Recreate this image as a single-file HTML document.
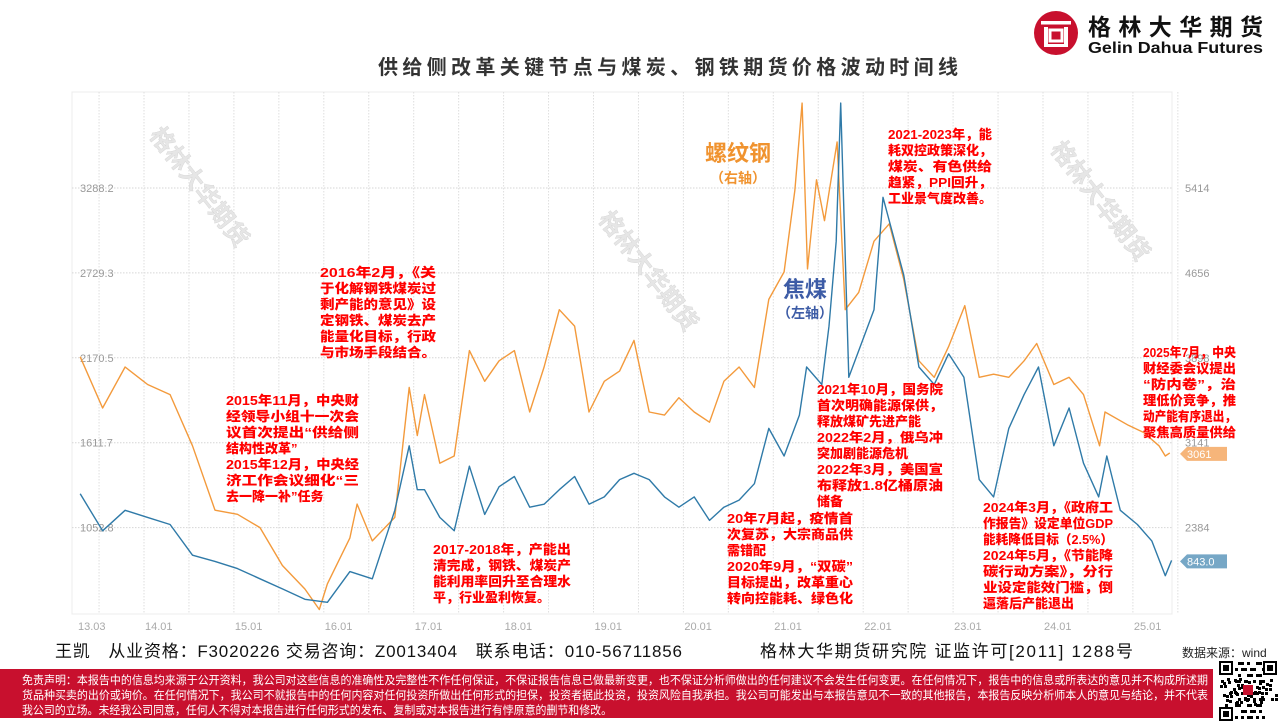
<!DOCTYPE html>
<html><head><meta charset="utf-8">
<style>
html,body{margin:0;padding:0;background:#fff;}
svg{display:block;font-family:"Liberation Sans","Noto Sans CJK SC",sans-serif;}
.ann{font-family:"Liberation Sans","Noto Sans CJK SC",sans-serif;font-weight:900;font-size:13px;fill:#ff0000;}
</style></head>
<body>
<svg id="chart" width="1281" height="723" viewBox="0 0 1281 723" xmlns="http://www.w3.org/2000/svg">
  <g>
    <circle cx="1056" cy="33" r="22" fill="#c8102e"/>
    <rect x="1041" y="21" width="30" height="3.5" fill="#fff"/>
    <rect x="1044" y="27" width="4" height="20" fill="#fff"/>
    <rect x="1064" y="27" width="4" height="20" fill="#fff"/>
    <rect x="1050" y="30" width="12" height="11" fill="none" stroke="#fff" stroke-width="3"/>
    <rect x="1048" y="44" width="16" height="3" fill="#fff"/>
    <text x="1088" y="35" font-size="23" font-weight="bold" fill="#111" textLength="175" lengthAdjust="spacing">格林大华期货</text>
    <text x="1088" y="53" font-size="16" font-weight="bold" fill="#111" textLength="175" lengthAdjust="spacingAndGlyphs">Gelin Dahua Futures</text>
  </g>
  <text x="668" y="74" text-anchor="middle" font-size="20" font-weight="bold" fill="#333" textLength="580" lengthAdjust="spacing">供给侧改革关键节点与煤炭、钢铁期货价格波动时间线</text>

  <g id="grid"></g>
  <g id="watermarks">
    <text transform="translate(193,192) rotate(52)" text-anchor="middle" font-size="24" font-weight="bold" fill="#e6e6e6" stroke="#d4d4d4" stroke-width="0.4">格林大华期货</text>
    <text transform="translate(642,276) rotate(52)" text-anchor="middle" font-size="24" font-weight="bold" fill="#e6e6e6" stroke="#d4d4d4" stroke-width="0.4">格林大华期货</text>
    <text transform="translate(1094,206) rotate(52)" text-anchor="middle" font-size="24" font-weight="bold" fill="#e6e6e6" stroke="#d4d4d4" stroke-width="0.4">格林大华期货</text>
  </g>
  <g id="axes"></g>
  <g id="series"></g>

  <text x="738" y="161" text-anchor="middle" font-size="22" font-weight="bold" fill="#f0932f">螺纹钢</text>
  <text x="738" y="183" text-anchor="middle" font-size="14" font-weight="bold" fill="#f0932f">（右轴）</text>
  <text x="805" y="297" text-anchor="middle" font-size="22" font-weight="bold" fill="#3d5ca6">焦煤</text>
  <text x="805" y="318" text-anchor="middle" font-size="14" font-weight="bold" fill="#3d5ca6">（左轴）</text>

  <g id="annotations"></g>

  <text x="55" y="657" font-size="17" fill="#111" textLength="627" lengthAdjust="spacing">王凯　从业资格：F3020226 交易咨询：Z0013404　联系电话：010-56711856</text>
  <text x="760" y="657" font-size="17" fill="#111" textLength="373" lengthAdjust="spacing">格林大华期货研究院 证监许可[2011] 1288号</text>
  <text x="1182" y="657" font-size="12" fill="#222">数据来源：wind</text>
  <rect x="0" y="669" width="1213" height="49" fill="#c8102e"/>
  <g font-size="11.5" fill="#fff">
    <text x="22" y="684" textLength="1186" lengthAdjust="spacingAndGlyphs">免责声明：本报告中的信息均来源于公开资料，我公司对这些信息的准确性及完整性不作任何保证，不保证报告信息已做最新变更，也不保证分析师做出的任何建议不会发生任何变更。在任何情况下，报告中的信息或所表达的意见并不构成所述期</text>
    <text x="22" y="699" textLength="1186" lengthAdjust="spacingAndGlyphs">货品种买卖的出价或询价。在任何情况下，我公司不就报告中的任何内容对任何投资所做出任何形式的担保，投资者据此投资，投资风险自我承担。我公司可能发出与本报告意见不一致的其他报告，本报告反映分析师本人的意见与结论，并不代表</text>
    <text x="22" y="714" textLength="590" lengthAdjust="spacingAndGlyphs">我公司的立场。未经我公司同意，任何人不得对本报告进行任何形式的发布、复制或对本报告进行有悖原意的删节和修改。</text>
  </g>
  <g id="qr"></g>
</svg>
<script>
const cokeDates = [2013.29,2013.54,2013.79,2014.04,2014.29,2014.54,2014.79,2015.04,2015.29,2015.54,2015.79,2016.04,2016.29,2016.54,2016.79,2016.95,2017.04,2017.12,2017.29,2017.45,2017.62,2017.79,2017.95,2018.12,2018.29,2018.45,2018.62,2018.79,2018.95,2019.12,2019.29,2019.45,2019.62,2019.79,2019.95,2020.12,2020.29,2020.45,2020.62,2020.79,2020.95,2021.12,2021.29,2021.37,2021.54,2021.62,2021.7,2021.75,2021.84,2022.12,2022.22,2022.45,2022.62,2022.79,2022.95,2023.12,2023.29,2023.45,2023.62,2023.79,2023.95,2024.12,2024.29,2024.45,2024.62,2024.71,2024.86,2025.05,2025.21,2025.36,2025.43];
const cokeValues = [1275,1032,1167,1120,1073,871,830,783,716,649,581,561,763,716,1167,1591,1302,1302,1120,1032,1457,1140,1322,1389,1187,1207,1302,1389,1207,1255,1369,1410,1369,1255,1187,1255,1100,1187,1234,1342,1706,1524,1793,2110,1995,2379,2938,3847,2042,2487,3227,2716,2110,1995,2197,2042,1369,1255,1706,1928,2110,1591,1840,1477,1255,1524,1167,1073,965,736,837];
const rebarDates = [2013.29,2013.54,2013.79,2014.04,2014.29,2014.54,2014.79,2015.04,2015.29,2015.54,2015.79,2015.95,2016.04,2016.29,2016.37,2016.54,2016.79,2016.95,2017.04,2017.12,2017.29,2017.45,2017.62,2017.79,2017.95,2018.12,2018.29,2018.45,2018.62,2018.79,2018.95,2019.12,2019.29,2019.45,2019.62,2019.79,2019.95,2020.12,2020.29,2020.45,2020.62,2020.79,2020.95,2021.12,2021.24,2021.32,2021.38,2021.48,2021.57,2021.71,2021.8,2021.95,2022.12,2022.29,2022.45,2022.62,2022.79,2022.95,2023.13,2023.29,2023.45,2023.62,2023.79,2023.93,2024.12,2024.29,2024.45,2024.63,2024.69,2024.95,2025.12,2025.29,2025.36,2025.41];
const rebarValues = [3907,3450,3816,3660,3569,3112,2537,2501,2382,2044,1834,1651,1880,2290,2592,2263,2473,3633,3204,3569,2957,3021,3962,3688,3871,3962,3414,3816,4327,4181,3414,3688,3779,4053,3414,3386,3542,3414,3323,3688,3816,3633,4419,4665,5396,6172,4692,5487,5122,5825,4327,4482,4939,5094,4601,3871,3724,3998,4364,3724,3752,3724,3871,4026,3660,3724,3569,3112,3414,3295,3231,3112,3021,3049];
const leftTicks = ["3288.2","2729.3","2170.5","1611.7","1052.8"];
const rightTicks = ["5414","4656","3898","3141","2384"];
const xTickLabels = ["13.03","14.01","15.01","16.01","17.01","18.01","19.01","20.01","21.01","22.01","23.01","24.01","25.01"];
const xTickDates = [2013.17,2014,2015,2016,2017,2018,2019,2020,2021,2022,2023,2024,2025];
const cokeLast = "843.0";
const rebarLast = "3061";

const NS = "http://www.w3.org/2000/svg";
const PLOT_L = 72, PLOT_R = 1172, PLOT_T = 92, PLOT_B = 614;
const Y0 = 188, GRID = 84.9;
function xScale(t){ return 144 + (t - 2014) * 89.9; }
function yLeft(v){ return Y0 + (3288.2 - v) / 558.85 * GRID; }
function yRight(v){ return Y0 + (5414 - v) / 758 * GRID; }
function mk(tag, attrs, parent){
  const e = document.createElementNS(NS, tag);
  for (const k in attrs) e.setAttribute(k, attrs[k]);
  parent.appendChild(e); return e;
}
const grid = document.getElementById('grid');
const axes = document.getElementById('axes');
mk('rect',{x:PLOT_L,y:PLOT_T,width:PLOT_R-PLOT_L,height:PLOT_B-PLOT_T,fill:'none',stroke:'#ececec','stroke-width':1},grid);
for (let i = 0; i < 5; i++){
  const y = Y0 + i * GRID;
  const l = mk('line',{x1:PLOT_L,x2:PLOT_R,y1:y,y2:y,stroke:'#d6d6d6','stroke-width':1,'stroke-dasharray':'1.5 1.5'},grid);
  
  
  const tl = mk('text',{x:80,y:y+4,'font-size':11,fill:'#999'},axes);
  tl.textContent = leftTicks[i];
  
  
  const tr = mk('text',{x:1185,y:y+4,'font-size':11,fill:'#999'},axes);
  tr.textContent = rightTicks[i];
  
  
}
for (let t = 2013.5; t <= 2025.5; t += 0.5){
  const x = xScale(t);
  const l = mk('line',{x1:x,x2:x,y1:PLOT_T,y2:PLOT_B,stroke:'#dedede','stroke-width':1,'stroke-dasharray':'1.5 1.5'},grid);
  
  
}
for (let i = 0; i < xTickLabels.length; i++){
  const x = i === 0 ? 78 : xScale(xTickDates[i]) + 1;
  const t = mk('text',{x:x,y:630,'font-size':11,fill:'#aaa'},axes);
  t.textContent = xTickLabels[i];
  
  
}

const series = document.getElementById('series');
function pathFor(dates, vals, yf){
  return dates.map((d,i)=>(i?'L':'M')+xScale(d).toFixed(1)+','+yf(vals[i]).toFixed(1)).join(' ');
}
const rp = mk('path',{d:pathFor(rebarDates,rebarValues,yRight),fill:'none',stroke:'#f39a3c','stroke-width':1.4,'stroke-linejoin':'round'},series);


const cp = mk('path',{d:pathFor(cokeDates,cokeValues,yLeft),fill:'none',stroke:'#2f7aa8','stroke-width':1.4,'stroke-linejoin':'round'},series);



function tag(y, color, label, name){
  const g = mk('g',{},series);
  
  
  mk('path',{d:`M1180,${y} L1187,${y-7} L1227,${y-7} L1227,${y+7} L1187,${y+7} Z`,fill:color},g);
  const t = mk('text',{x:1187,y:y+4,'font-size':11,fill:'#fff'},g);
  t.textContent = label;
}
tag(yRight(rebarValues[rebarValues.length-1]) + 1, '#f6b57a', rebarLast, 'rebar-last-value-tag');
tag(yLeft(cokeValues[cokeValues.length-1]) + 1, '#76a7c6', cokeLast, 'coking-coal-last-value-tag');

const annBlocks = [
  {name:'annotation-2016-02', x:320, y:277, w:116, lines:["2016年2月，《关","于化解钢铁煤炭过","剩产能的意见》设","定钢铁、煤炭去产","能量化目标，行政","与市场手段结合。"]},
  {name:'annotation-2015-11', x:226, y:405, w:133, lines:["2015年11月，中央财","经领导小组十一次会","议首次提出“供给侧","结构性改革”","2015年12月，中央经","济工作会议细化“三","去一降一补”任务"], short:[3,6]},
  {name:'annotation-2017-2018', x:433, y:554, w:138, lines:["2017-2018年，产能出","清完成，钢铁、煤炭产","能利用率回升至合理水","平，行业盈利恢复。"], short:[3]},
  {name:'annotation-2020', x:727, y:523, w:126, lines:["20年7月起，疫情首","次复苏，大宗商品供","需错配","2020年9月，“双碳”","目标提出，改革重心","转向控能耗、绿色化"], short:[2]},
  {name:'annotation-2021-2022', x:817, y:394, w:126, lines:["2021年10月，国务院","首次明确能源保供，","释放煤矿先进产能","2022年2月，俄乌冲","突加剧能源危机","2022年3月，美国宣","布释放1.8亿桶原油","储备"], short:[2,4,7]},
  {name:'annotation-2021-2023', x:888, y:139, w:104, lines:["2021-2023年，能","耗双控政策深化，","煤炭、有色供给","趋紧，PPI回升，","工业景气度改善。"]},
  {name:'annotation-2024', x:983, y:512, w:130, lines:["2024年3月，《政府工","作报告》设定单位GDP","能耗降低目标（2.5%）","2024年5月，《节能降","碳行动方案》，分行","业设定能效门槛，倒","逼落后产能退出"], short:[6]},
  {name:'annotation-2025-07', x:1143, y:357, w:93, lines:["2025年7月，中央","财经委会议提出","“防内卷”，治","理低价竞争，推","动产能有序退出，","聚焦高质量供给"]}
];
const annG = document.getElementById('annotations');
annBlocks.forEach(b=>{
  const g = mk('g',{},annG);
  
  
  b.lines.forEach((ln,i)=>{
    const t = mk('text',{x:b.x,y:b.y+i*16,'class':'ann'},g);
    if (!(b.short && b.short.includes(i))){ t.setAttribute('textLength', b.w); t.setAttribute('lengthAdjust','spacingAndGlyphs'); }
    t.textContent = ln;
  });
});

const qr = document.getElementById('qr');
mk('rect',{x:1218,y:660,width:60,height:62,fill:'#fff'},qr);
function finder(x,y){ mk('rect',{x:x,y:y,width:14,height:14,fill:'#000'},qr); mk('rect',{x:x+2,y:y+2,width:10,height:10,fill:'#fff'},qr); mk('rect',{x:x+4,y:y+4,width:6,height:6,fill:'#000'},qr); }
finder(1219,661); finder(1263,661); finder(1219,707);
const qrBits = ["0110100110","1011011001","0100110110","1101001011","0011100101","1010011100","0101101011","1100100110","0011011010","1010110101"];
qrBits.forEach((row,r)=>{ for(let c=0;c<row.length;c++){ if(row[c]==='1'){ const cx=1235+c*3, cy=662+r*6; mk('rect',{x:cx,y:cy,width:3,height:3,fill:'#000'},qr); mk('rect',{x:1220+((c*7+r*3)%56),y:677+((r*5+c)%28),width:3,height:3,fill:'#000'},qr);} } });
mk('rect',{x:1243,y:685,width:10,height:10,fill:'#c8102e'},qr);
</script>
</body></html>
